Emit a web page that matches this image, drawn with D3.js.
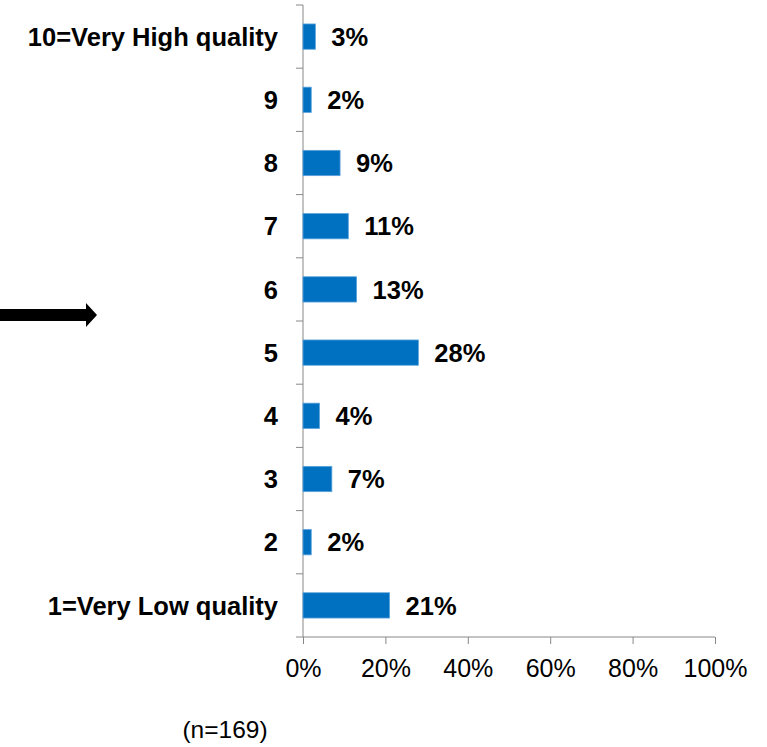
<!DOCTYPE html>
<html>
<head>
<meta charset="utf-8">
<script src="https://cdn.jsdelivr.net/npm/d3@7"></script>
<style>
  body { margin: 0; background: #fff; }
  text { font-family: "Liberation Sans", Arial, sans-serif; }
</style>
</head>
<body>
<svg id="chart" width="767" height="747"></svg>
<script>
var categories = ["10=Very High quality", "9", "8", "7", "6", "5", "4", "3", "2", "1=Very Low quality"];
var values = [3, 2, 9, 11, 13, 28, 4, 7, 2, 21];
var xTicks = [0, 20, 40, 60, 80, 100];
var note = "(n=169)";

var margin = {top: 5, left: 303},
    plotW = 412,
    plotH = 632;

var svg = d3.select("#chart");
var g = svg.append("g")
    .attr("transform", "translate(" + margin.left + "," + margin.top + ")");

var x = d3.scaleLinear().domain([0, 100]).range([0, plotW]);
var y = d3.scaleBand().domain(categories).range([0, plotH]).paddingInner(0.6).paddingOuter(0.3);
var yb = d3.scaleBand().domain(categories).range([0, plotH]);

// category boundary ticks on the left
g.selectAll(".ytick")
    .data(d3.range(categories.length + 1))
  .enter().append("line")
    .attr("x1", -7).attr("x2", 0)
    .attr("y1", function(i) { return i * yb.step(); })
    .attr("y2", function(i) { return i * yb.step(); })
    .style("stroke", "#888").style("stroke-width", 1);

g.append("line")
    .attr("x1", 0).attr("x2", 0).attr("y1", 0).attr("y2", plotH)
    .style("stroke", "#888").style("stroke-width", 1);

var xAxis = d3.axisBottom(x)
    .tickValues(xTicks)
    .tickSize(7)
    .tickFormat(function(d) { return d + "%"; });

var ax = g.append("g")
    .attr("transform", "translate(0," + plotH + ")")
    .call(xAxis);
ax.select(".domain").attr("d", "M0,0H" + plotW).style("stroke", "#888");
ax.selectAll(".tick line").style("stroke", "#888");
ax.selectAll(".tick text")
    .attr("y", 22)
    .style("font-size", "25px")
    .style("font-family", "'Liberation Sans', Arial, sans-serif")
    .style("fill", "#000");

g.selectAll(".bar")
    .data(values)
  .enter().append("rect")
    .attr("x", 0)
    .attr("y", function(d, i) { return y(categories[i]); })
    .attr("width", function(d) { return x(d); })
    .attr("height", y.bandwidth())
    .style("fill", "#0070C0")
    .style("stroke", "#5aa2dc")
    .style("stroke-width", 0.8);

g.selectAll(".val")
    .data(values)
  .enter().append("text")
    .attr("x", function(d) { return x(d) + 16; })
    .attr("y", function(d, i) { return y(categories[i]) + y.bandwidth() / 2; })
    .attr("dy", "0.36em")
    .style("font-size", "25.5px")
    .style("font-weight", "bold")
    .text(function(d) { return d + "%"; });

g.selectAll(".cat")
    .data(categories)
  .enter().append("text")
    .attr("x", -25)
    .attr("y", function(d) { return yb(d) + yb.bandwidth() / 2; })
    .attr("dy", "0.36em")
    .attr("text-anchor", "end")
    .style("font-size", "25.5px")
    .style("font-weight", "bold")
    .text(function(d) { return d; });

// arrow
svg.append("path")
    .attr("d", "M0,309H86V303L97,315L86,327V321H0Z")
    .style("fill", "#000");

svg.append("text")
    .attr("x", 225)
    .attr("y", 738)
    .attr("text-anchor", "middle")
    .style("font-size", "24.5px")
    .text(note);
</script>
</body>
</html>
